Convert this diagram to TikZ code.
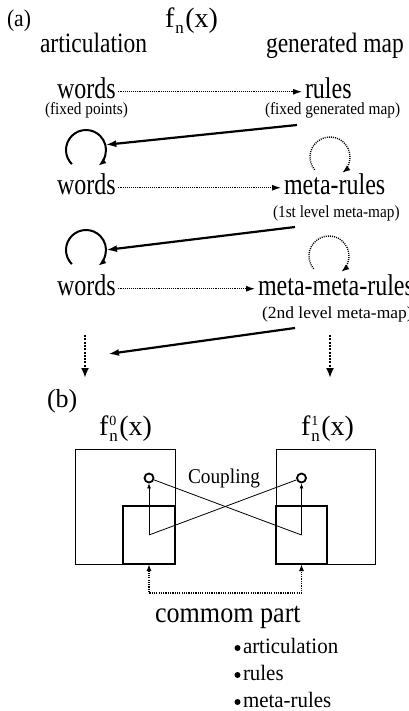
\documentclass[tikz,border=0pt]{standalone}
\usepackage{fontspec}
\setmainfont{Liberation Serif}
\usepackage{graphicx}
\usetikzlibrary{arrows.meta,calc}

% text helpers: font size plus a horizontal squeeze
\newcommand{\squeezed}[3]{\scalebox{#1}[1]{\fontsize{#2}{#2}\selectfont #3}}
\newcommand{\txtbig}[1]{\squeezed{0.8}{30}{#1}}
\newcommand{\txthead}[1]{\squeezed{0.84}{28}{#1}}
\newcommand{\txtsmall}[1]{\squeezed{0.9}{17}{#1}}
\newcommand{\txtcoup}[1]{\squeezed{0.92}{21}{#1}}
\newcommand{\txtcommon}[1]{\squeezed{0.9}{29}{#1}}
\newcommand{\txtitem}[1]{\squeezed{0.95}{22}{#1}}
% map name f with optional superscript and subscript n
\newcommand{\mapname}[1]{f\hspace{1pt}\rlap{\raisebox{10pt}{\fontsize{14}{14}\selectfont #1}}\raisebox{-6pt}{\fontsize{17}{17}\selectfont n}\hspace{1.5pt}(x)}

\begin{document}
\begin{tikzpicture}[x=1pt,y=-1pt,
  lbl/.style={inner sep=0pt, outer sep=0pt, anchor=base west},
  maparrow/.style={dash pattern=on 1pt off 0.9pt, line width=1.1pt, -{Latex[length=9pt,width=6pt]}},
  feedback/.style={line width=2.2pt, -{Latex[length=11pt,width=7pt]}},
  loopsolid/.style={line width=2pt, -{Latex[length=8pt,width=6pt]}},
  loopdotted/.style={dash pattern=on 1pt off 1.1pt, line width=1.4pt, -{Latex[length=8pt,width=6pt]}},
  ellipsis/.style={dash pattern=on 2pt off 1.3pt, line width=2.4pt, -{Latex[length=10pt,width=8pt]}},
  hub/.style={circle, inner sep=0pt, outer sep=0pt, minimum size=40pt},
  outerbox/.style={draw, line width=1pt, inner sep=0pt, outer sep=0pt},
  innerbox/.style={draw, line width=2.8pt, inner sep=0pt, outer sep=0pt},
  port/.style={draw, circle, line width=1.8pt, inner sep=0pt, minimum size=9pt},
  wire/.style={line width=0.8pt},
  shared/.style={dash pattern=on 1.2pt off 1.1pt, line width=1.6pt,
                 {Latex[length=7pt,width=5pt]}-{Latex[length=7pt,width=5pt]}},
  dot/.style={circle, fill, inner sep=0pt, minimum size=6pt},
]
\useasboundingbox[fill=white] (0,0) rectangle (408,711);

% ---------- (a): articulation and generated maps ----------
\node[lbl] (a) at (7,27) {\squeezed{0.9}{24}{(a)}};
\node[lbl] (fn) at (165,28) {\squeezed{1}{28}{\mapname{}}};
\node[lbl] (art) at (40,53) {\txthead{articulation}};
\node[lbl] (gen) at (266,53) {\txthead{generated map}};

% level 0
\node[lbl] (w1) at (57,99) {\txtbig{words}};
\node[lbl] (r1) at (305,99) {\txtbig{rules}};
\node[lbl] (p1) at (45,115) {\txtsmall{(fixed points)}};
\node[lbl] (s1) at (265,115) {\txtsmall{(fixed generated map)}};
\draw[maparrow] ($(w1.east)+(2,3)$) -- ($(w1.east -| r1.west)+(-3,3)$);

% level 1
\node[hub] (l1) at (86,150) {};
\node[hub] (d1) at (330,157) {};
\node[lbl] (w2) at (57,195) {\txtbig{words}};
\node[lbl] (r2) at (284,195) {\txtbig{meta-rules}};
\node[lbl] (s2) at (273,218) {\txtsmall{(1st level meta-map)}};
\draw[maparrow] ($(w2.east)+(2,3)$) -- ($(w2.east -| r2.west)+(-3,3)$);

% level 2
\node[hub] (l2) at (86,250) {};
\node[hub] (d2) at (329,256) {};
\node[lbl] (w3) at (57,295) {\txtbig{words}};
\node[lbl] (r3) at (258,295) {\txtbig{meta-meta-rules}};
\node[lbl] (s3) at (262,318) {\squeezed{1.03}{17}{(2nd level meta-map)}};
\draw[maparrow] ($(w3.east)+(2,4)$) -- ($(w3.east -| r3.west)+(-3,4)$);

% self loops
\draw[loopsolid] (l1.225) arc[start angle=135, end angle=412, radius=20];
\draw[loopsolid] (l2.225) arc[start angle=135, end angle=412, radius=20];
\draw[loopdotted] (d1.220) arc[start angle=140, end angle=412, radius=20];
\draw[loopdotted] (d2.220) arc[start angle=140, end angle=412, radius=20];

% feedback from each generated map to the next articulation
\coordinate (f1) at (297,125);
\coordinate (f2) at (295,227);
\coordinate (f3) at (295,328);
\coordinate (e3) at (108,354);
\draw[feedback] (f1) -- (l1.15);
\draw[feedback] (f2) -- (l2.0);
\draw[feedback] (f3) -- (e3);

% continuation
\coordinate (m1) at (85,335);
\coordinate (m2) at (330,335);
\draw[ellipsis] (m1) -- ++(0,43);
\draw[ellipsis] (m2) -- ++(0,43);

% ---------- (b): two coupled maps ----------
\node[lbl] (b) at (47,407) {\squeezed{1}{26}{(b)}};
\node[lbl] (f0) at (99,435) {\squeezed{1}{28}{\mapname{0}}};
\node[lbl] (fo) at (301,435) {\squeezed{1}{28}{\mapname{1}}};

\node[outerbox, minimum width=100pt, minimum height=115pt] (o0) at (125,506.5) {};
\node[outerbox, minimum width=99pt, minimum height=115pt] (o1) at (325.5,506.5) {};
\node[innerbox, minimum width=52pt, minimum height=58pt] (i0) at (149,535) {};
\node[innerbox, minimum width=51pt, minimum height=58pt] (i1) at (301.5,535) {};

\node[port] (c0) at (149,478) {};
\node[port] (c1) at (301.5,478) {};
\node[lbl, anchor=base] (cp) at (224,483) {\txtcoup{Coupling}};

\draw[wire, -{Latex[length=5pt,width=4pt]}] (i0.center) -- (c0);
\draw[wire, -{Latex[length=5pt,width=4pt]}] (i1.center) -- (c1);
\draw[wire] (i0.center) -- (c1);
\draw[wire] (i1.center) -- (c0);

\draw[shared] (i0.south) -- ++(0,29) -| (i1.south);

\node[lbl] (cm) at (155,622) {\txtcommon{commom part}};
\node[dot] (b1) at (237.5,648) {};
\node[dot] (b2) at (237.5,675) {};
\node[dot] (b3) at (237.5,702) {};
\node[lbl] (it1) at (243,653) {\txtitem{articulation}};
\node[lbl] (it2) at (243,680) {\txtitem{rules}};
\node[lbl] (it3) at (243,707) {\txtitem{meta-rules}};
\end{tikzpicture}
\end{document}
